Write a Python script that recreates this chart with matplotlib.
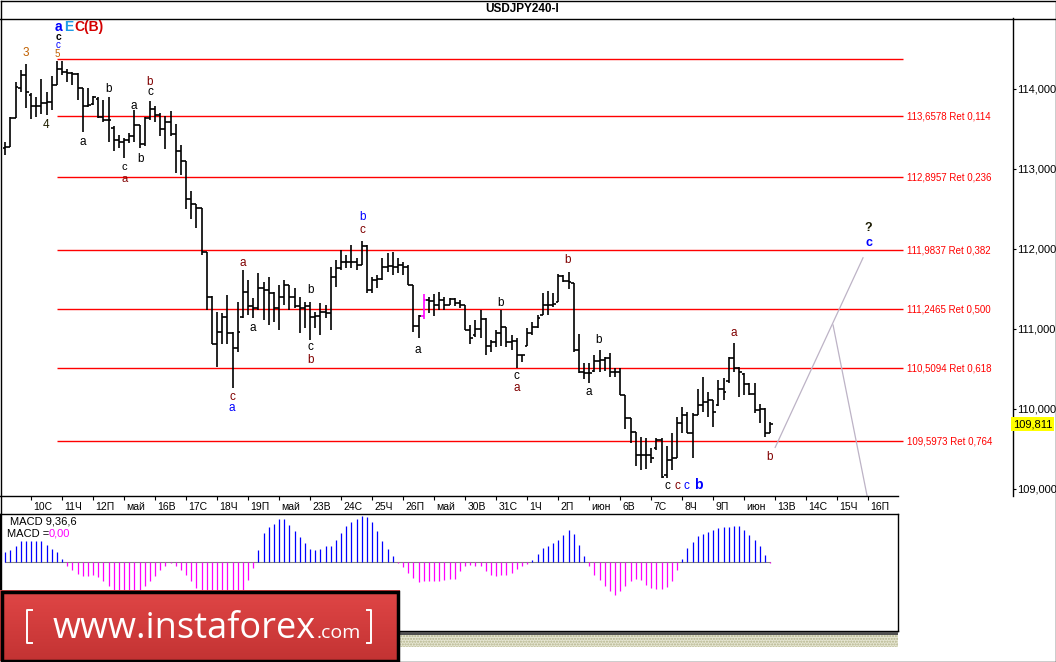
import numpy as np
import matplotlib.pyplot as plt
import matplotlib.transforms as mtransforms
from matplotlib.collections import LineCollection
from matplotlib.colors import LinearSegmentedColormap
from matplotlib.patches import Rectangle

plt.rcParams['font.family'] = ['Liberation Sans', 'DejaVu Sans']

# =====================================================
# DATA  (USDJPY H4 bars)
# =====================================================

bar_open = [
    113.26, 113.27, 113.64, 114.01, 114.17, 113.93, 113.79, 113.79, 113.82, 113.84,
    114.05, 114.25, 114.21, 114.20, 114.19, 114.01, 113.79, 113.81, 113.88, 113.65,
    113.61, 113.51, 113.36, 113.34, 113.36, 113.41, 113.55, 113.31, 113.64, 113.75,
    113.67, 113.50, 113.59, 113.44, 113.22, 113.10, 112.62, 112.56, 112.51, 111.96,
    111.40, 110.81, 110.96, 111.15, 110.95, 110.76, 111.15, 111.46, 111.29, 111.26,
    111.51, 111.49, 111.45, 111.26, 111.40, 111.55, 111.40, 111.29, 111.26, 111.29,
    111.15, 111.16, 111.21, 111.20, 111.65, 111.76, 111.84, 111.84, 111.84, 111.80,
    112.04, 111.49, 111.61, 111.62, 111.78, 111.79, 111.78, 111.80, 111.78, 111.55,
    111.04, 111.16, 111.36, 111.35, 111.30, 111.36, 111.30, 111.37, 111.32, 111.30,
    110.99, 110.92, 111.00, 111.12, 110.79, 110.84, 110.95, 111.02, 110.84, 110.85,
    110.67, 110.79, 110.95, 111.02, 111.18, 111.30, 111.30, 111.34, 111.66, 111.60,
    111.57, 110.74, 110.46, 110.45, 110.48, 110.60, 110.61, 110.64, 110.46, 110.46,
    110.18, 109.89, 109.71, 109.42, 109.42, 109.42, 109.51, 109.61, 109.17, 109.36,
    109.39, 109.82, 109.92, 109.70, 109.92, 110.05, 110.09, 110.11, 110.05, 110.25,
    110.35, 110.64, 110.51, 110.44, 110.31, 110.19, 109.99, 110.00, 109.70,
]

bar_high = [
    113.34, 113.65, 114.09, 114.24, 114.31, 113.95, 113.90, 114.12, 113.96, 114.16,
    114.35, 114.35, 114.25, 114.21, 114.20, 114.01, 114.01, 113.91, 113.90, 113.86,
    113.90, 113.54, 113.42, 113.39, 113.45, 113.74, 113.55, 113.65, 113.85, 113.79,
    113.70, 113.66, 113.72, 113.56, 113.30, 113.10, 112.72, 112.56, 112.51, 111.96,
    111.41, 111.21, 111.20, 111.42, 110.96, 111.34, 111.74, 111.61, 111.39, 111.70,
    111.59, 111.65, 111.46, 111.55, 111.61, 111.55, 111.51, 111.40, 111.34, 111.34,
    111.21, 111.33, 111.30, 111.78, 111.86, 111.99, 111.92, 112.05, 111.89, 112.10,
    112.05, 111.65, 111.67, 111.89, 111.95, 111.96, 111.89, 111.84, 111.80, 111.55,
    111.17, 111.44, 111.40, 111.44, 111.46, 111.40, 111.39, 111.39, 111.36, 111.30,
    111.05, 111.11, 111.24, 111.14, 110.86, 110.99, 111.24, 111.02, 110.92, 110.89,
    110.68, 111.01, 111.09, 111.17, 111.45, 111.47, 111.45, 111.69, 111.67, 111.71,
    111.58, 110.94, 110.58, 110.58, 110.68, 110.74, 110.65, 110.70, 110.51, 110.51,
    110.18, 109.89, 109.71, 109.65, 109.64, 109.51, 109.64, 109.64, 109.54, 109.70,
    109.90, 110.02, 109.96, 109.95, 110.25, 110.40, 110.21, 110.11, 110.36, 110.39,
    110.65, 110.82, 110.52, 110.45, 110.32, 110.32, 110.06, 110.01, 109.84,
]

bar_low = [
    113.18, 113.27, 113.64, 113.96, 113.76, 113.62, 113.65, 113.69, 113.67, 113.74,
    114.05, 114.17, 114.09, 114.05, 113.86, 113.46, 113.78, 113.80, 113.64, 113.59,
    113.34, 113.22, 113.26, 113.14, 113.33, 113.34, 113.26, 113.29, 113.61, 113.59,
    113.41, 113.25, 113.41, 112.95, 112.92, 112.50, 112.37, 112.26, 111.92, 111.24,
    110.81, 110.52, 110.81, 110.81, 110.26, 110.71, 111.14, 111.17, 111.14, 111.24,
    111.11, 111.05, 111.09, 110.99, 111.30, 111.24, 111.26, 110.95, 111.01, 110.86,
    111.01, 110.92, 111.14, 110.99, 111.52, 111.74, 111.76, 111.76, 111.74, 111.80,
    111.45, 111.45, 111.51, 111.61, 111.71, 111.67, 111.70, 111.67, 111.55, 110.96,
    110.89, 111.12, 111.20, 111.16, 111.24, 111.24, 111.30, 111.29, 111.26, 110.99,
    110.81, 110.90, 110.89, 110.67, 110.71, 110.77, 110.79, 110.77, 110.74, 110.51,
    110.59, 110.79, 110.92, 111.01, 111.17, 111.17, 111.27, 111.34, 111.59, 111.50,
    110.71, 110.45, 110.37, 110.33, 110.46, 110.46, 110.47, 110.40, 110.40, 110.18,
    109.75, 109.57, 109.29, 109.24, 109.25, 109.32, 109.49, 109.14, 109.14, 109.24,
    109.39, 109.70, 109.70, 109.39, 109.92, 109.96, 109.90, 109.77, 110.04, 110.11,
    110.33, 110.46, 110.15, 110.18, 110.18, 109.95, 109.82, 109.65, 109.70,
]

bar_close = [
    113.28, 113.64, 114.02, 114.17, 113.96, 113.79, 113.79, 113.82, 113.84, 114.05,
    114.25, 114.21, 114.20, 114.19, 114.01, 113.79, 113.80, 113.90, 113.65, 113.61,
    113.61, 113.36, 113.34, 113.36, 113.41, 113.55, 113.31, 113.64, 113.75, 113.67,
    113.50, 113.59, 113.44, 113.22, 113.10, 112.62, 112.56, 112.51, 111.96, 111.40,
    110.81, 110.96, 111.15, 110.95, 110.76, 110.96, 111.46, 111.29, 111.26, 111.51,
    111.49, 111.45, 111.26, 111.40, 111.55, 111.40, 111.29, 111.26, 111.29, 111.15,
    111.16, 111.21, 111.20, 111.65, 111.76, 111.84, 111.84, 111.84, 111.80, 112.04,
    111.49, 111.61, 111.62, 111.78, 111.79, 111.78, 111.80, 111.78, 111.55, 111.04,
    111.16, 111.36, 111.35, 111.30, 111.36, 111.30, 111.37, 111.32, 111.30, 110.99,
    110.89, 111.00, 111.12, 110.79, 110.84, 110.95, 111.02, 110.84, 110.85, 110.67,
    110.67, 110.95, 111.02, 111.14, 111.30, 111.30, 111.31, 111.66, 111.60, 111.59,
    110.74, 110.46, 110.45, 110.45, 110.60, 110.61, 110.64, 110.46, 110.46, 110.18,
    109.89, 109.71, 109.42, 109.42, 109.42, 109.39, 109.61, 109.15, 109.36, 109.39,
    109.82, 109.92, 109.70, 109.92, 110.05, 110.09, 110.11, 109.96, 110.25, 110.21,
    110.64, 110.51, 110.46, 110.31, 110.19, 109.99, 110.00, 109.70, 109.81,
]

highlight_bar = 81

# MACD 9,36,6 histogram
macd_hist = [
    0.10, 0.12, 0.16, 0.21, 0.21, 0.21, 0.21, 0.21, 0.17, 0.13,
    0.10, 0.03, -0.04, -0.08, -0.12, -0.14, -0.14, -0.13, -0.15, -0.19,
    -0.24, -0.29, -0.31, -0.33, -0.33, -0.31, -0.28, -0.24, -0.19, -0.14,
    -0.08, -0.04, -0.01, -0.04, -0.08, -0.13, -0.19, -0.26, -0.30, -0.34,
    -0.38, -0.40, -0.40, -0.38, -0.36, -0.33, -0.28, -0.18, -0.06, 0.12,
    0.29, 0.35, 0.38, 0.43, 0.43, 0.37, 0.31, 0.25, 0.19, 0.13,
    0.12, 0.13, 0.16, 0.16, 0.22, 0.29, 0.36, 0.40, 0.43, 0.46,
    0.45, 0.40, 0.31, 0.21, 0.13, 0.06, -0.01, -0.05, -0.11, -0.16,
    -0.20, -0.19, -0.19, -0.19, -0.19, -0.18, -0.17, -0.17, -0.09, -0.04,
    -0.03, -0.04, -0.04, -0.09, -0.13, -0.14, -0.13, -0.13, -0.11, -0.07,
    -0.04, -0.02, 0.02, 0.08, 0.14, 0.16, 0.19, 0.22, 0.27, 0.32,
    0.28, 0.17, 0.06, -0.04, -0.13, -0.18, -0.24, -0.29, -0.33, -0.29,
    -0.24, -0.19, -0.17, -0.18, -0.23, -0.26, -0.27, -0.27, -0.25, -0.19,
    -0.08, 0.03, 0.14, 0.20, 0.26, 0.28, 0.30, 0.32, 0.34, 0.35,
    0.35, 0.36, 0.36, 0.32, 0.27, 0.22, 0.16, 0.07, -0.005,
]

fib_levels = [113.6578, 112.8957, 111.9837, 111.2465, 110.5094, 109.5973]
fib_ratios = ['0,114', '0,236', '0,382', '0,500', '0,618', '0,764']
fib_zero = 114.37
fib_from_bar = 10

last_price = 109.811
price_ticks = [109, 110, 111, 112, 113, 114]

day_labels = ['10С', '11Ч', '12П', 'май', '16В', '17С', '18Ч', '19П', 'май',
              '23В', '24С', '25Ч', '26П', 'май', '30В', '31С', '1Ч', '2П',
              'июн', '6В', '7С', '8Ч', '9П', 'июн', '13В', '14С', '15Ч', '16П']
first_day_bar = 5
bars_per_day = 6

# wave marks: (bar, price, text, colour, size, bold)
BLK, BRN, BLU = '#000000', '#800000', '#0000FF'
wave_marks = [
    (10.2, 114.655, 'c', BLK, 7.5, True),
    (10.2, 114.55, 'c', BLU, 7, False),
    (10.0, 114.44, '5', '#C06000', 7, False),
    (4.0, 114.45, '3', '#C06000', 8.5, False),
    (7.9, 113.55, '4', '#202000', 8.5, False),
    (15.0, 113.34, 'a', BLK, 8.5, False),
    (19.9, 114.00, 'b', BLK, 8.5, False),
    (23.0, 113.025, 'c', BLK, 8, False),
    (23.0, 112.88, 'a', BRN, 8, False),
    (24.9, 113.79, 'a', BLK, 8.5, False),
    (26.1, 113.13, 'b', BLK, 8.5, False),
    (28.0, 114.09, 'b', BRN, 8.5, False),
    (28.0, 113.96, 'c', BLK, 8.5, False),
    (43.9, 110.15, 'c', BRN, 8.5, False),
    (43.9, 110.01, 'a', BLU, 8.5, False),
    (46.0, 111.83, 'a', BRN, 8.5, False),
    (47.9, 111.01, 'a', BLK, 8.5, False),
    (59.0, 111.49, 'b', BLK, 8.5, False),
    (59.0, 110.78, 'c', BLK, 8.5, False),
    (59.0, 110.61, 'b', BRN, 8.5, False),
    (69.2, 112.40, 'b', BLU, 8.5, False),
    (69.2, 112.24, 'c', BRN, 8.5, False),
    (79.9, 110.74, 'a', BLK, 8.5, False),
    (95.9, 111.33, 'b', BLK, 8.5, False),
    (99.0, 110.41, 'c', BLK, 8.5, False),
    (99.0, 110.26, 'a', BRN, 8.5, False),
    (108.9, 111.86, 'b', BRN, 8.5, False),
    (114.9, 110.86, 'b', BLK, 8.5, False),
    (113.0, 110.21, 'a', BLK, 8.5, False),
    (128.1, 109.04, 'c', BLK, 8.5, False),
    (130.0, 109.04, 'c', BRN, 8.5, False),
    (131.9, 109.04, 'c', BLU, 8.5, False),
    (134.1, 109.05, 'b', BLU, 10, True),
    (141.0, 110.95, 'a', BRN, 8.5, False),
    (148.0, 109.40, 'b', BRN, 8.5, False),
    (167.0, 112.26, '?', '#1A1A00', 9, True),
    (167.2, 112.08, 'c', BLU, 9, True),
]
# header marks left-aligned: (bar, price, text, colour)
head_marks = [
    (9.6, 114.78, 'a', BLU),
    (11.4, 114.78, 'E', '#1E9BE6'),
    (13.3, 114.78, 'C(B)', '#D40000'),
]

# forecast path lines (bar, price)
path_up = ([149.0, 166.0], [109.52, 111.89])
path_down = ([160.2, 166.8], [111.05, 108.91])

# =====================================================
# LAYOUT
# =====================================================

W, H = 1056, 662
BAR_PX, FIRST_PX = 5.167, 5.3


def px_rect(x0, y0, x1, y1):
    return [x0 / W, 1 - y1 / H, (x1 - x0) / W, (y1 - y0) / H]


fig = plt.figure(figsize=(W / 100, H / 100), dpi=100)
fig.patch.set_facecolor('white')

ax = fig.add_axes(px_rect(0, 18, 1013, 496))
ax_m = fig.add_axes(px_rect(0, 514, 898, 631))
ov = fig.add_axes([0, 0, 1, 1], zorder=5)
ov.set_xlim(0, W)
ov.set_ylim(H, 0)
ov.axis('off')
ov.set_facecolor('none')

# =====================================================
# PRICE PANEL
# =====================================================

n = len(bar_close)
idx = np.arange(n)
segs, cols = [], []
for i in idx:
    c = '#FF00FF' if i == highlight_bar else 'black'
    segs.append([(i, bar_low[i]), (i, bar_high[i])])
    segs.append([(i - 0.5, bar_open[i]), (i, bar_open[i])])
    segs.append([(i, bar_close[i]), (i + 0.5, bar_close[i])])
    cols += [c, c, c]
ax.add_collection(LineCollection(segs, colors=cols, linewidths=1.2, zorder=3))

x_end = (903 - FIRST_PX) / BAR_PX
ax.hlines([fib_zero] + fib_levels, fib_from_bar, x_end, colors='#FF0000',
          linewidth=1.0, zorder=2)
for lev, r in zip(fib_levels, fib_ratios):
    ax.text(x_end + 0.8, lev, f"{lev:.4f}".replace('.', ',') + ' Ret ' + r,
            color='#FF0000', fontsize=7, va='center', ha='left')

ax.plot(*path_up, color='#BDB3C6', linewidth=0.9, zorder=2)
ax.plot(*path_down, color='#BDB3C6', linewidth=0.9, zorder=2)

for bx, py, t, c, fs, b in wave_marks:
    ax.text(bx, py, t, color=c, fontsize=fs, ha='center', va='center',
            fontweight='bold' if b else 'normal', zorder=4)
for bx, py, t, c in head_marks:
    ax.text(bx, py, t, color=c, fontsize=10, ha='left', va='center',
            fontweight='bold', zorder=4)

ax.set_xlim(-FIRST_PX / BAR_PX, (1013 - FIRST_PX) / BAR_PX)
ax.set_ylim(108.9125, 114.8875)

ax.yaxis.tick_right()
ax.set_yticks(price_ticks)
ax.set_yticklabels([f"{p:.3f}".replace('.', ',') for p in price_ticks])
ax.tick_params(axis='y', direction='out', length=2.5, width=0.8, pad=0.6,
               labelsize=8)

day_pos = first_day_bar + bars_per_day * np.arange(len(day_labels))
ax.set_xticks(day_pos, minor=True)
ax.set_xticks(day_pos + 0.4, labels=day_labels)
plt.setp(ax.get_xticklabels(), ha='left')
ax.tick_params(axis='x', which='major', length=0, pad=4, labelsize=7.5)
ax.tick_params(axis='x', which='minor', direction='out', length=3, width=0.8)

ax.spines['left'].set_visible(False)
ax.spines['top'].set_visible(False)
ax.spines['right'].set_linewidth(1.0)
ax.spines['bottom'].set_linewidth(1.0)
ax.spines['bottom'].set_bounds(-FIRST_PX / BAR_PX, (898 - FIRST_PX) / BAR_PX)

trans = mtransforms.blended_transform_factory(ax.transAxes, ax.transData)
ax.text(1.0, last_price, f"{last_price:.3f}".replace('.', ','), transform=trans,
        fontsize=8, ha='left', va='center', clip_on=False,
        bbox=dict(boxstyle='square,pad=0.18', fc='#FFFF00', ec='none'))

# =====================================================
# MACD PANEL
# =====================================================

mh = np.array(macd_hist)
ax_m.vlines(idx, 0, mh, colors=np.where(mh >= 0, '#0000FF', '#FF00FF'),
            linewidth=0.9)
ax_m.plot([0, n - 1], [0, 0], color='#808080', linewidth=0.8, zorder=0)
ax_m.set_xlim(-FIRST_PX / BAR_PX, (898 - FIRST_PX) / BAR_PX)
ax_m.set_ylim(-0.69, 0.48)
ax_m.set_xticks([])
ax_m.set_yticks([])
for s in ax_m.spines.values():
    s.set_linewidth(1.0)
ax_m.text(10, 522, 'MACD 9,36,6', transform=ov.transData, fontsize=8,
          va='center')
ax_m.text(7, 534, 'MACD =', transform=ov.transData, fontsize=8, va='center')
ax_m.text(49, 534, '0,00', transform=ov.transData, fontsize=8, va='center',
          color='#FF00FF')

# =====================================================
# FRAME, TITLE, WATERMARK
# =====================================================

ov.text(522, 9, 'USDJPY240-I', fontsize=8.5, fontweight='bold', ha='center',
        va='center')
ov.plot([0, W], [18.5, 18.5], color='black', linewidth=1.0)
ov.plot([0.5, W - 0.5, W - 0.5, 0.5, 0.5], [0.5, 0.5, H - 0.5, H - 0.5, 0.5],
        color='black', linewidth=1.0)

ov.add_patch(Rectangle((400, 632), 498, 2.5, facecolor='#505050', lw=0))
ov.add_patch(Rectangle((400, 634.5), 498, 12.5, facecolor='#E6E6D2',
                       edgecolor='#B4B48C', hatch='......', lw=0))

grad = np.linspace(0, 1, 64).reshape(-1, 1)
cmap = LinearSegmentedColormap.from_list('band', ['#E04646', '#C33333'])
ov.imshow(grad, extent=(0, 400, 661, 590), cmap=cmap, aspect='auto', zorder=6)
ov.add_patch(Rectangle((1.5, 591.5), 396.5, 69, facecolor='none',
                       edgecolor='black', lw=2.5, zorder=7))
t_www = ov.text(53, 638, 'www.instaforex', color='white', fontsize=26,
                family='Open Sans', va='baseline', ha='left', zorder=8)
ov.annotate('.com', xy=(1, 638), xycoords=(t_www, 'data'), color='white',
            fontsize=14, family='Open Sans', va='baseline', ha='left',
            zorder=8, annotation_clip=False)
ov.plot([32, 27, 27, 32], [610, 610, 643, 643], color='white', linewidth=1.4,
        zorder=8)
ov.plot([367, 371, 371, 367], [610, 610, 643, 643], color='white',
        linewidth=1.4, zorder=8)

ov.set_xlim(0, W)
ov.set_ylim(H, 0)

fig.savefig('out.png', dpi=100)
